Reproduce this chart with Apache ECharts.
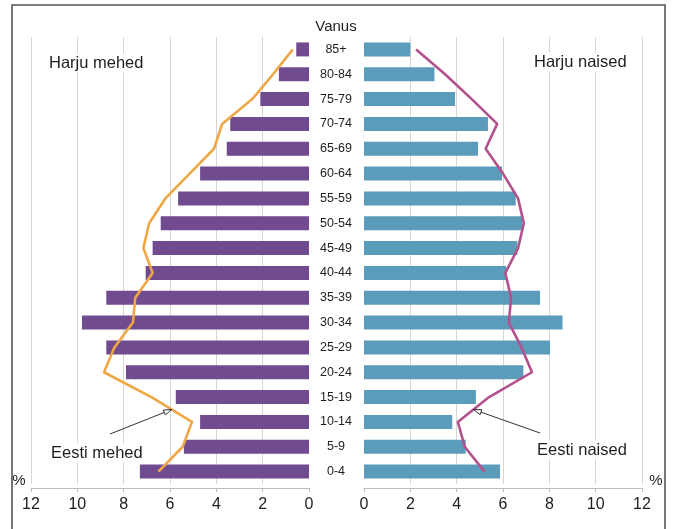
<!DOCTYPE html>
<html>
<head>
<meta charset="utf-8">
<script src="https://cdn.jsdelivr.net/npm/echarts@6/dist/echarts.min.js"></script>
<style>
  html, body { margin: 0; padding: 0; background: #fff; }
  #chart { width: 674px; height: 529px; }
</style>
</head>
<body>
<div id="chart"></div>
<script>
// Age groups, bottom to top
const ageGroups = ['0-4', '5-9', '10-14', '15-19', '20-24', '25-29', '30-34', '35-39', '40-44',
  '45-49', '50-54', '55-59', '60-64', '65-69', '70-74', '75-79', '80-84', '85+'];

// Share of population, %
const harjuMen = [7.3, 5.4, 4.7, 5.75, 7.9, 8.75, 9.8, 8.75, 7.05, 6.75, 6.4, 5.65, 4.7, 3.55, 3.4, 2.1, 1.3, 0.55];
const eestiMen = [6.5, 5.45, 5.05, 6.8, 8.85, 8.4, 7.6, 7.5, 6.75, 7.15, 6.9, 6.2, 5.15, 4.1, 3.75, 2.45, 1.55, 0.7];
const harjuWomen = [5.87, 4.39, 3.81, 4.83, 6.88, 8.03, 8.57, 7.6, 6.13, 6.62, 6.83, 6.55, 5.96, 4.92, 5.35, 3.93, 3.04, 2.0];
const eestiWomen = [5.2, 4.35, 4.05, 5.4, 7.25, 6.8, 6.25, 6.35, 6.1, 6.65, 6.9, 6.65, 6.0, 5.25, 5.75, 4.65, 3.5, 2.25];

// Percent scale
const axisMin = 0;
const axisMax = 12;
const axisStep = 2;

const FONT = '"Liberation Sans", Arial, sans-serif';
const GRID_LINE = '#d6d6d6';
const AXIS_LINE = '#bdbdbd';
const TEXT = '#1e1e1e';

const chart = echarts.init(document.getElementById('chart'), null, { renderer: 'canvas' });

function valueAxis(gridIndex, inverse) {
  return {
    gridIndex: gridIndex,
    type: 'value',
    min: axisMin,
    max: axisMax,
    interval: axisStep,
    inverse: inverse,
    offset: 4,
    axisLine: { show: true, lineStyle: { color: AXIS_LINE, width: 1 } },
    axisTick: { show: true, length: 4, lineStyle: { color: AXIS_LINE } },
    axisLabel: { color: TEXT, fontSize: 16, fontFamily: FONT, margin: 9 },
    splitLine: { show: true, showMinLine: false, lineStyle: { color: GRID_LINE, width: 1 } }
  };
}

const pairs = (arr) => arr.map((v, i) => [v, ageGroups[i]]);

function label(id, text, x, y, size, align, plain) {
  const style = {
    text: text, textAlign: align || 'left', textVerticalAlign: 'middle',
    font: size + 'px ' + FONT, fill: TEXT
  };
  if (!plain) {
    style.backgroundColor = '#fff';
    style.padding = [1, 2];
  }
  return { type: 'text', id: id, x: x, y: y, z: 20, style: style };
}

const baseGraphics = [
  { type: 'rect', id: 'frame', silent: true, z: 30,
    shape: { x: 12, y: 5, width: 653, height: 600 },
    style: { fill: 'none', stroke: '#555', lineWidth: 1.6 } },
  label('vanus', 'Vanus', 336, 27, 15, 'center'),
  label('hm', 'Harju mehed', 47, 63, 16.5),
  label('hn', 'Harju naised', 532, 62, 16.5),
  label('em', 'Eesti mehed', 49, 453, 16.5),
  label('en', 'Eesti naised', 535, 450, 16.5),
  label('pl', '%', 19, 481, 15, 'center', true),
  label('pr', '%', 656, 481, 15, 'center', true)
];

chart.setOption({
  animation: false,
  backgroundColor: '#fff',
  grid: [
    { left: 31, right: 365, top: 37, bottom: 45, containLabel: false },
    { left: 364, right: 32, top: 37, bottom: 45, containLabel: false }
  ],
  xAxis: [valueAxis(0, true), valueAxis(1, false)],
  yAxis: [
    { gridIndex: 0, type: 'category', data: ageGroups,
      axisLine: { show: false }, axisTick: { show: false }, axisLabel: { show: false },
      splitLine: { show: false } },
    { gridIndex: 1, type: 'category', data: ageGroups,
      axisLine: { show: false }, axisTick: { show: false },
      axisLabel: { show: true, margin: 28, align: 'center', color: TEXT, fontSize: 12.5, fontFamily: FONT },
      splitLine: { show: false } }
  ],
  series: [
    { name: 'Harju mehed', type: 'bar', xAxisIndex: 0, yAxisIndex: 0, data: harjuMen,
      barWidth: 14, itemStyle: { color: '#704b8f' }, z: 2 },
    { name: 'Eesti mehed', type: 'line', xAxisIndex: 0, yAxisIndex: 0, data: pairs(eestiMen),
      symbol: 'none', lineStyle: { color: '#efa746', width: 2.6 }, z: 3 },
    { name: 'Harju naised', type: 'bar', xAxisIndex: 1, yAxisIndex: 1, data: harjuWomen,
      barWidth: 14, itemStyle: { color: '#5b9cba' }, z: 2 },
    { name: 'Eesti naised', type: 'line', xAxisIndex: 1, yAxisIndex: 1, data: pairs(eestiWomen),
      symbol: 'none', lineStyle: { color: '#b3518e', width: 2.6 }, z: 3 }
  ],
  graphic: baseGraphics
});

// Pointer arrows from the labels to the Estonia lines (between 15-19 and 10-14)
function arrowTo(id, gridIndex, values, tail) {
  const a = chart.convertToPixel({ gridIndex: gridIndex }, [values[3], 3]);
  const b = chart.convertToPixel({ gridIndex: gridIndex }, [values[2], 2]);
  const tip = [(a[0] + b[0]) / 2, (a[1] + b[1]) / 2];
  const dx = tip[0] - tail[0], dy = tip[1] - tail[1];
  const len = Math.sqrt(dx * dx + dy * dy);
  const ux = dx / len, uy = dy / len;
  const nx = -uy, ny = ux;
  const head = 8, half = 2.6;
  const base = [tip[0] - ux * head, tip[1] - uy * head];
  return [
    { type: 'line', id: id + '_shaft', z: 10,
      shape: { x1: tail[0], y1: tail[1], x2: base[0], y2: base[1] },
      style: { stroke: '#333', lineWidth: 1 } },
    { type: 'polygon', id: id + '_head', z: 10,
      shape: { points: [tip, [base[0] + nx * half, base[1] + ny * half], [base[0] - nx * half, base[1] - ny * half]] },
      style: { fill: '#fff', stroke: '#333', lineWidth: 1 } }
  ];
}

chart.setOption({
  graphic: baseGraphics
    .concat(arrowTo('arrM', 0, eestiMen, [110, 434]))
    .concat(arrowTo('arrW', 1, eestiWomen, [540, 433]))
});
</script>
</body>
</html>
